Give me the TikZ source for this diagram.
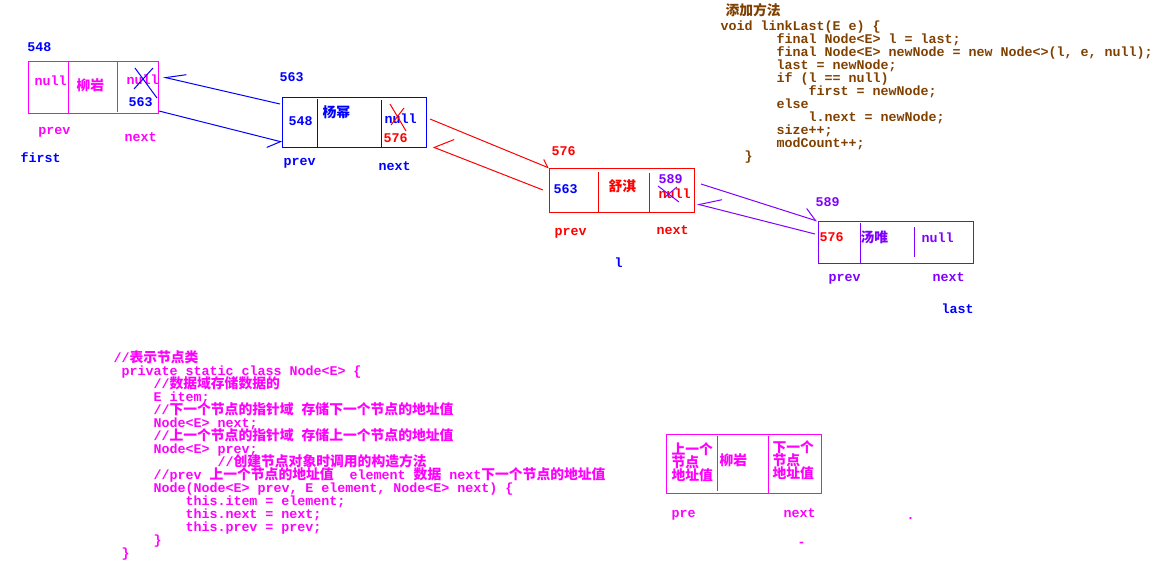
\documentclass[tikz,border=0pt]{standalone}
\usepackage{fontspec}
\setmainfont{Liberation Mono}
\newfontfamily\zhfont{Noto Sans CJK SC}[Scale=1.035]
\usetikzlibrary{positioning,calc,arrows.meta}
\definecolor{cMag}{HTML}{FF00FF}
\definecolor{cBlue}{HTML}{0000FF}
\definecolor{cRed}{HTML}{FF0000}
\definecolor{cViolet}{HTML}{8000FF}
\definecolor{cBrown}{HTML}{804000}
\newlength{\codechar}
\setlength{\codechar}{6pt}
\newcommand{\zh}[1]{{\zhfont #1}}
\newcommand{\ind}[1]{\hspace*{#1\codechar}}
\newcommand{\codefont}{\bfseries\fontsize{10pt}{9.75pt}\selectfont\lineskiplimit=-20pt\frenchspacing}
\newcommand{\listbox}[6]{\node[cellbox, draw=#6, minimum width=#4*0.75pt, minimum height=#5*0.75pt] (#1) at (#2,#3) {};}
\newcommand{\divider}[5]{\draw[#5] ($(#1.north west)+(#2,#3)$) -- ($(#1.south west)+(#2,-#4)$);}
\newcommand{\lbl}[5]{\node[lbl, text=#4] (#1) at (#2,#3) {#5};}
\tikzset{
  cellbox/.style={anchor=north west, inner sep=0pt},
  lbl/.style={anchor=base west, inner sep=0pt, font=\codefont},
  code/.style={lbl, align=left},
  tipright/.style 2 args={-{Straight Barb[harpoon, swap, length=#1, width=#2]}},
  tipleft/.style 2 args={-{Straight Barb[harpoon, length=#1, width=#2]}},
}
\begin{document}
\begin{tikzpicture}[x=0.75pt, y=-0.75pt, line width=0.75pt]
\useasboundingbox (0,0) rectangle (1168,582);
\fill[white] (0,0) rectangle (1168,582);

% first node
\listbox{b548}{28}{61}{130}{52}{cMag}
\divider{b548}{40}{1}{1}{cMag}
\divider{b548}{89}{1}{2}{cMag}
\lbl{a548}{27}{51}{cBlue}{548}
\lbl{p548}{34}{85}{cMag}{null}
\lbl{i548}{76}{90}{cMag}{\zh{柳岩}}
\lbl{n548}{126}{84}{cMag}{null}
\lbl{m548}{128}{106}{cBlue}{563}
\lbl{pv548}{38}{134}{cMag}{prev}
\lbl{nx548}{124}{141}{cMag}{next}
\lbl{first}{20}{162}{cBlue}{first}
\draw[cBlue] (135,68) -- (157,98) (153,68) -- (134,89);

% second node
\listbox{b563}{282}{97}{144}{50}{cBlue}
\divider{b563}{35}{2}{0}{cBlue}
\divider{b563}{99}{3}{1}{cBlue}
\lbl{a563}{279}{81}{cBlue}{563}
\lbl{p563}{288}{125}{cBlue}{548}
\lbl{i563}{322}{117}{cBlue}{\zh{杨幂}}
\lbl{n563}{384}{123}{cBlue}{null}
\lbl{m563}{383}{142}{cRed}{576}
\lbl{pv563}{283}{165}{cBlue}{prev}
\lbl{nx563}{378}{170}{cBlue}{next}
\draw[cRed] (390,104) -- (406,131) (404,108) -- (391,125);

% third node
\listbox{b576}{549}{168}{145}{44}{cRed}
\divider{b576}{49}{4}{0}{cRed}
\divider{b576}{100}{5}{0}{cRed}
\lbl{a576}{551}{155}{cRed}{576}
\lbl{p576}{553}{193}{cBlue}{563}
\lbl{i576}{608}{191}{cRed}{\zh{舒淇}}
\lbl{m576}{658}{183}{cViolet}{589}
\lbl{n576}{658}{198}{cRed}{null}
\lbl{pv576}{554}{235}{cRed}{prev}
\lbl{nx576}{656}{234}{cRed}{next}
\lbl{l}{614}{267}{cBlue}{l}
\draw[cViolet] (658,186) -- (679,202) (677,187) -- (665,197);

% fourth node
\listbox{b589}{818}{221}{155}{42}{cViolet}
\divider{b589}{42}{2}{0}{cViolet}
\divider{b589}{96}{6}{7}{cViolet}
\lbl{a589}{815}{206}{cViolet}{589}
\lbl{p589}{819}{241}{cRed}{576}
\lbl{i589}{860}{242}{cViolet}{\zh{汤唯}}
\lbl{n589}{921}{242}{cViolet}{null}
\lbl{pv589}{828}{281}{cViolet}{prev}
\lbl{nx589}{932}{281}{cViolet}{next}
\lbl{last}{941}{313}{cBlue}{last}

% links
\draw[cBlue, tipright={14.7pt}{11.3pt}] ($(b563.north west)+(-2,7)$) -- ($(b548.north east)+(4,16)$);
\draw[cBlue, tipright={9pt}{13.5pt}] ($(b548.south east)+(0,-3)$) -- ($(b563.south west)+(0,-6)$);
\draw[cRed, tipleft={5.1pt}{8.9pt}] ($(b563.north east)+(3,22)$) -- (b576.north west);
\draw[cRed, tipright={11.8pt}{22pt}] ($(b576.north west)+(-6,22)$) -- ($(b563.south east)+(6,-1)$);
\draw[cViolet, tipleft={9.1pt}{13.2pt}] ($(b576.north east)+(6,16)$) -- ($(b589.north west)+(-1,0)$);
\draw[cViolet, tipright={15.8pt}{15.5pt}] ($(b589.north west)+(-3,13)$) -- ($(b576.north east)+(2,36)$);

% linkLast (base = last line)
\lbl{addtitle}{725}{15}{cBrown}{\zh{添加方法}}
\node[code, text=cBrown] (addcode) at (720,160) {void linkLast(E e) \{\\
\ind{7}final Node<E> l = last;\\
\ind{7}final Node<E> newNode = new Node<>(l, e, null);\\
\ind{7}last = newNode;\\
\ind{7}if (l == null)\\
\ind{11}first = newNode;\\
\ind{7}else\\
\ind{11}l.next = newNode;\\
\ind{7}size++;\\
\ind{7}modCount++;\\
\ind{3}\}};

% Node class
\node[code, text=cMag] (nodecode) at (113,557) {//\zh{表示节点类}\\
\ind{1}private static class Node<E> \{\\
\ind{5}//\zh{数据域存储数据的}\\
\ind{5}E item;\\
\ind{5}//\zh{下一个节点的指针域} \zh{存储下一个节点的地址值}\\
\ind{5}Node<E> next;\\
\ind{5}//\zh{上一个节点的指针域} \zh{存储上一个节点的地址值}\\
\ind{5}Node<E> prev;\\
\ind{13}//\zh{创建节点对象时调用的构造方法}\\
\ind{5}//prev \zh{上一个节点的地址值}\ \ element \zh{数据} next\zh{下一个节点的地址值}\\
\ind{5}Node(Node<E> prev, E element, Node<E> next) \{\\
\ind{9}this.item = element;\\
\ind{9}this.next = next;\\
\ind{9}this.prev = prev;\\
\ind{5}\}\\
\ind{1}\}};

% legend node
\listbox{bkey}{666}{434}{155}{59}{cMag}
\divider{bkey}{51}{2}{3}{cMag}
\divider{bkey}{102}{2}{1}{cMag}
\node[code, text=cMag] (pkey) at (671,480) {\zh{上一个}\\\zh{节点}\\\zh{地址值}};
\lbl{ikey}{719}{465}{cMag}{\zh{柳岩}}
\node[code, text=cMag] (nkey) at (772,478) {\zh{下一个}\\\zh{节点}\\\zh{地址值}};
\lbl{pvkey}{671}{517}{cMag}{pre}
\lbl{nxkey}{783}{517}{cMag}{next}
\lbl{dot}{906}{519}{cMag}{.}
\lbl{dash}{797}{546}{cMag}{-}
\end{tikzpicture}
\end{document}
